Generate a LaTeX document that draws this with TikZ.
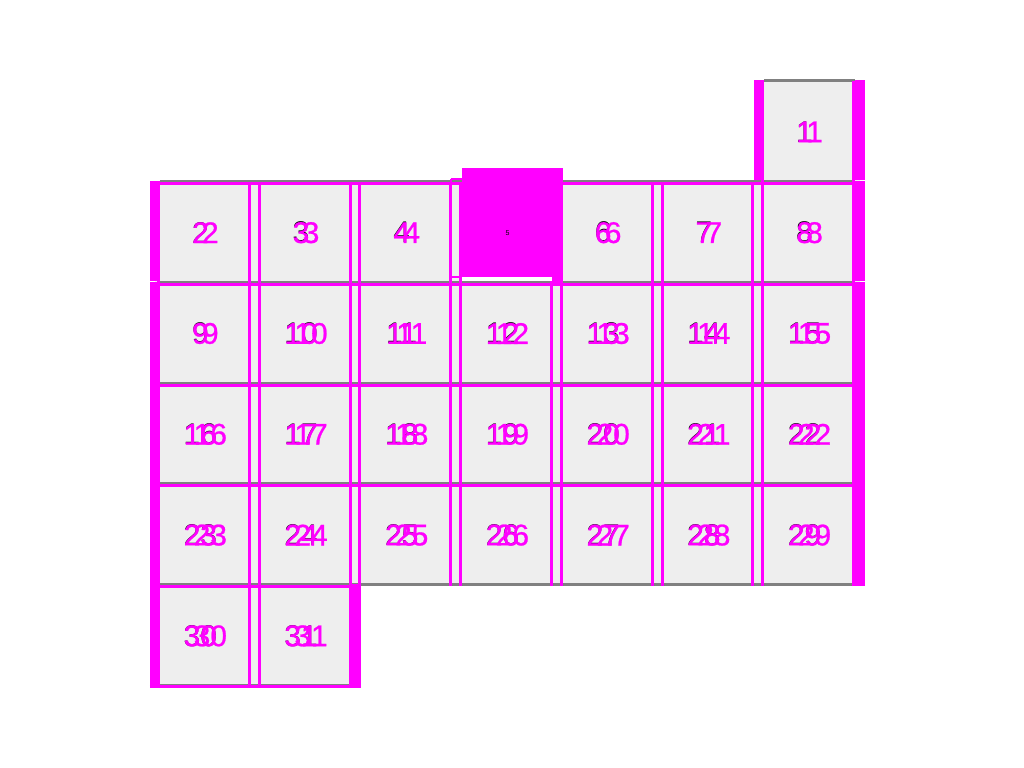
\documentclass[tikz,border=0pt]{standalone}
\usepackage{fontspec}
\setmainfont{Liberation Sans}
\newfontfamily\dayfont{Liberation Sans}[FakeBold=0.8]
\usetikzlibrary{positioning,calc}
\definecolor{calFill}{HTML}{EEEEEE}
\definecolor{calRule}{HTML}{808080}
\definecolor{calMark}{HTML}{FF00FF}
\tikzset{
  daycell/.style={
    rectangle, fill=calFill, minimum width=1.007cm, minimum height=1.008cm,
    inner sep=0pt, outer sep=0pt
  },
  daytext/.style={font=\fontsize{8.5}{10}\selectfont, text=black, inner sep=0pt},
  daymark/.style={font=\dayfont\fontsize{8.5}{10}\selectfont, text=calMark, inner sep=0pt},
  ruleline/.style={calRule, line width=0.025cm},
  markline/.style={calMark, line width=0.03cm},
  markbar/.style={fill=calMark},
  tinytag/.style={font=\fontsize{2}{2}\selectfont, inner sep=0pt}
}
\begin{document}
\begin{tikzpicture}[x=0.01cm, y=-0.01cm]
  \useasboundingbox (0,0) rectangle (1024,768);
  % day cells
  \foreach \n in {1,...,31}{
    \pgfmathtruncatemacro{\c}{\n==1 ? 6 : mod(\n-2,7)}
    \pgfmathtruncatemacro{\r}{\n==1 ? 0 : 1+div(\n-2,7)}
    \node[daycell] (d\n) at ({205.35+100.7*\c},{131.9+100.8*\r}) {};
  }
  % grey rules
  \foreach \n in {1,...,31}{
    \pgfmathtruncatemacro{\c}{\n==1 ? 6 : mod(\n-2,7)}
    \pgfmathsetmacro{\lt}{(\c==0 || \n==1) ? 0.05 : 0}
    \pgfmathsetmacro{\rt}{(\c==6 || \n==31) ? -0.05 : 0}
    \draw[ruleline] ([xshift=\lt cm, yshift=0.01cm]d\n.north west) -- ([xshift=\rt cm, yshift=0.01cm]d\n.north east);
    \draw[ruleline] ([xshift=\lt cm, yshift=0.01cm]d\n.south west) -- ([xshift=\rt cm, yshift=0.01cm]d\n.south east);
  }
  % marks and numbers
  \foreach \n in {1,...,31}{
    \pgfmathtruncatemacro{\c}{\n==1 ? 6 : mod(\n-2,7)}
    \pgfmathsetmacro{\bb}{\n>24 ? -0.005 : 0.02}
    \ifnum\n>1
      \draw[markline] ([yshift=-0.012cm]d\n.north west) -- ([yshift=-0.012cm]d\n.north east);
    \fi
    \draw[markline] ([xshift=0.036cm]d\n.north west) -- ([xshift=0.036cm]d\n.south west);
    \draw[markline] ([xshift=-0.064cm]d\n.north east) -- ([xshift=-0.064cm]d\n.south east);
    \ifnum\c=0
      \fill[markbar] ([xshift=-0.05cm,yshift=0.015cm]d\n.north west) rectangle ([xshift=0.05cm,yshift=\bb cm]d\n.south west);
    \fi
    \ifnum\c=6
      \fill[markbar] ([xshift=-0.05cm,yshift=0.015cm]d\n.north east) rectangle ([xshift=0.05cm,yshift=\bb cm]d\n.south east);
    \fi
    \node[daytext] (k\n) at ([xshift=-0.05cm]d\n.center) {\n};
    \node[daymark] (ma\n) at ([xshift=-0.05cm]d\n.center) {\n};
    \node[daymark] (mb\n) at ([xshift=0.05cm]d\n.center) {\n};
  }
  \fill[markbar] ([xshift=-0.05cm,yshift=0.015cm]d1.north west) rectangle ([xshift=0.05cm,yshift=0.02cm]d1.south west);
  \fill[markbar] ([xshift=-0.05cm,yshift=0.015cm]d31.north east) rectangle ([xshift=0.05cm,yshift=-0.005cm]d31.south east);
  \draw[markline] ([xshift=-0.05cm,yshift=-0.005cm]d30.south west) -- ([xshift=0.05cm,yshift=-0.005cm]d31.south east);
  % highlighted day
  \fill[markbar] (462,168) rectangle (563,277);
  \fill[markbar] (553,277) rectangle (563,283);
  \fill[white] (462,277.5) rectangle (552,281);
  \draw[markline, line width=0.02cm] (451,179) -- (462,179);
  \draw[markline, line width=0.02cm] (451,277) -- (462,277);
  \draw[markline, line width=0.02cm] (451,179) -- (451,283);
  \node[tinytag] (d5tag) at (d5) {5};
\end{tikzpicture}
\end{document}
